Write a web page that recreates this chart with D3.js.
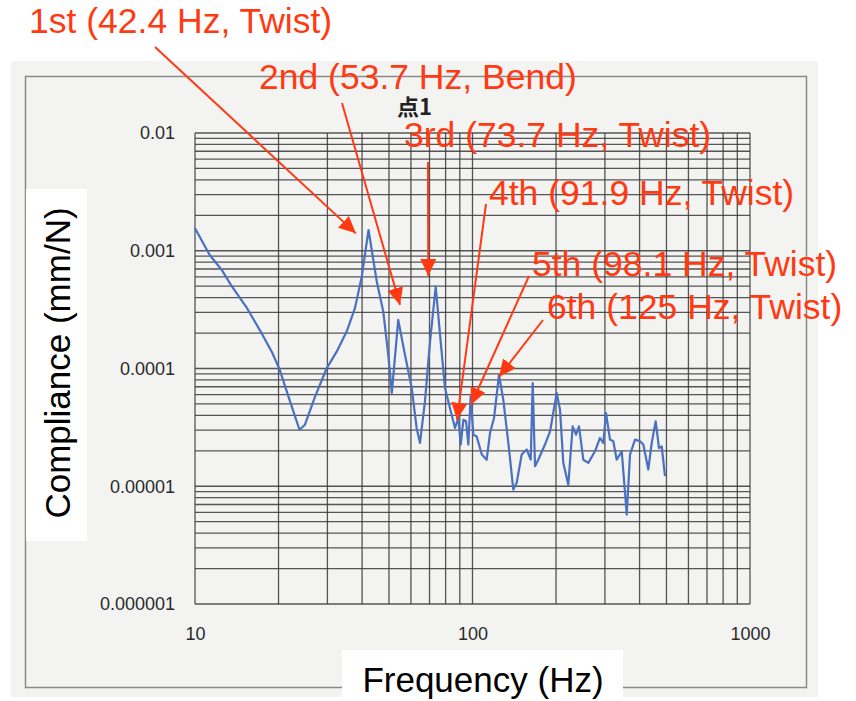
<!DOCTYPE html>
<html>
<head>
<meta charset="utf-8">
<script src="https://cdn.jsdelivr.net/npm/d3@7"></script>
<style>
  body { margin: 0; background: #fff; }
  svg { display: block; }
</style>
</head>
<body>
<div class="chart"></div>
<script>
// compliance vs frequency, point 1
const freq = [10.0, 11.3, 12.5, 13.6, 15.4, 17.1, 18.9, 20.2, 22.0, 23.8, 24.9, 27.1, 29.8, 32.4, 35.2, 37.7, 39.9, 42.2,
    45.2, 47.7, 49.7, 51.2, 54.0, 57.1, 60.4, 62.9, 64.7, 67.4, 70.3, 73.7, 76.4, 79.6, 84.1, 86.5, 88.9, 90.7, 92.7,
    94.8, 96.6, 98.5, 100.7, 103.5, 108.0, 112.5, 115.7, 119.6, 124.6, 129.1, 134.6, 140.3, 144.3, 150.4, 156.8,
    162.1, 164.8, 168.0, 172.6, 182.5, 190.3, 201.1, 206.7, 212.4, 221.4, 229.6, 236.1, 242.0, 250.8, 261.4, 276.3,
    288.0, 296.0, 302.7, 313.0, 321.7, 330.9, 345.0, 359.6, 369.5, 385.2, 401.5, 412.6, 430.1, 442.4, 457.3, 470.0,
    480.7, 494.0];
const compliance = [1.55e-3, 9.2e-4, 6.85e-4, 4.95e-4, 3.25e-4, 2.13e-4, 1.39e-4, 9.75e-5, 5.25e-5, 3.02e-5, 3.33e-5,
    5.8e-5, 1.0e-4, 1.39e-4, 2.06e-4, 3.25e-4, 6.03e-4, 1.50e-3,
    5.46e-4, 3.04e-4, 1.31e-4, 6.2e-5, 2.59e-4, 1.31e-4, 6.82e-5, 3.13e-5, 2.33e-5, 5.25e-5, 1.69e-4, 4.95e-4,
    1.93e-4, 6.82e-5, 4.05e-5, 3.13e-5, 3.8e-5, 2.26e-5, 3.67e-5,
    3.56e-5, 2.26e-5, 5.8e-5, 2.74e-5, 2.65e-5, 1.86e-5, 1.68e-5, 2.85e-5, 3.82e-5, 8.85e-5, 5.43e-5, 2.35e-5,
    9.37e-6, 1.07e-5, 1.86e-5, 2.05e-5,
    1.68e-5, 7.52e-5, 1.48e-5, 1.68e-5, 2.26e-5, 2.92e-5, 6.2e-5, 4.47e-5, 1.58e-5, 1.03e-5, 3.22e-5, 2.74e-5,
    3.22e-5, 1.68e-5, 1.58e-5, 1.98e-5,
    2.57e-5, 2.33e-5, 4.19e-5, 2.49e-5, 2.41e-5, 1.68e-5, 1.98e-5, 5.75e-6, 1.86e-5, 2.49e-5, 2.41e-5, 2.26e-5,
    1.39e-5, 2.33e-5, 3.56e-5, 2.11e-5,
    2.18e-5, 1.22e-5];

const xTicks = [10, 100, 1000];
const xTickLabels = ["10", "100", "1000"];
const yTicks = [0.01, 0.001, 0.0001, 0.00001, 0.000001];
const yTickLabels = ["0.01", "0.001", "0.0001", "0.00001", "0.000001"];

// mode annotations: text and the point each arrow points at
const modeLabels = ["1st (42.4 Hz, Twist)", "2nd (53.7 Hz, Bend)", "3rd (73.7 Hz, Twist)",
    "4th (91.9 Hz, Twist)", "5th (98.1 Hz, Twist)", "6th (125 Hz, Twist)"];
const modeTipFreq = [38.0, 54.8, 69.3, 87.9, 98.8, 124.6];
const modeTipComp = [1.405e-3, 3.47e-4, 6.1e-4, 3.67e-5, 4.92e-5, 8.5e-5];

// where the labels and arrow tails sit on the page (pixels)
const labelXY = [[29, 33], [259, 89], [404, 147], [489, 205], [532, 276], [547, 319]];
const arrowTail = [[155, 47], [342, 103], [428, 162], [486, 204], [529, 276], [543, 320]];

const W = 856, H = 701;
const plot = {left: 195, right: 750, top: 133, bottom: 604};
const red = "#ff3a12";

const svg = d3.select(".chart").append("svg")
    .attr("width", W)
    .attr("height", H);

// scanned paper + frame
svg.append("rect")
    .attr("x", 11).attr("y", 61)
    .attr("width", 807).attr("height", 636)
    .attr("fill", "#f3f3f2");
svg.append("rect")
    .attr("x", 25.5).attr("y", 76.5)
    .attr("width", 781).attr("height", 611)
    .attr("fill", "none")
    .attr("stroke", "#8a8a8a")
    .attr("stroke-width", 1.5);

const x = d3.scaleLog()
    .domain([10, 1000])
    .range([plot.left, plot.right]);

const y = d3.scaleLog()
    .domain([0.000001, 0.01])
    .range([plot.bottom, plot.top]);

// log grid
const xGrid = [];
[10, 100].forEach(d => { for (let k = 1; k < 10; k++) xGrid.push(d * k); });
xGrid.push(1000);
const yGrid = [];
[1e-6, 1e-5, 1e-4, 1e-3].forEach(d => { for (let k = 1; k < 10; k++) yGrid.push(d * k); });
yGrid.push(0.01);

const grid = svg.append("g").attr("class", "grid")
    .attr("stroke", "#383838")
    .attr("stroke-width", 1.3)
    .attr("stroke-opacity", 0.85);

grid.selectAll(".vline")
    .data(xGrid)
    .enter()
    .append("line")
    .attr("class", "vline")
    .attr("x1", d => x(d)).attr("x2", d => x(d))
    .attr("y1", plot.top).attr("y2", plot.bottom);

grid.selectAll(".hline")
    .data(yGrid)
    .enter()
    .append("line")
    .attr("class", "hline")
    .attr("y1", d => y(d)).attr("y2", d => y(d))
    .attr("x1", plot.left).attr("x2", plot.right);

// axes (only the labels are visible, like the print)
const xAxis = d3.axisBottom(x)
    .tickValues(xTicks)
    .tickFormat((d, i) => xTickLabels[i])
    .tickSize(0)
    .tickPadding(0);

const yAxis = d3.axisLeft(y)
    .tickValues(yTicks)
    .tickFormat((d, i) => yTickLabels[i])
    .tickSize(0)
    .tickPadding(20);

const gx = svg.append("g")
    .attr("class", "axis x-axis")
    .attr("transform", "translate(0," + (plot.bottom + 23) + ")")
    .call(xAxis);

const gy = svg.append("g")
    .attr("class", "axis y-axis")
    .attr("transform", "translate(" + plot.left + ",0)")
    .call(yAxis);

[gx, gy].forEach(g => {
    g.select(".domain").remove();
    g.selectAll("text")
        .attr("font-family", "Liberation Sans, Arial, sans-serif")
        .attr("font-size", 18)
        .attr("fill", "#2a2a2a");
});

// the curve
const line = d3.line()
    .x((d, i) => x(freq[i]))
    .y(d => y(d));

svg.append("path")
    .datum(compliance)
    .attr("fill", "none")
    .attr("stroke", "#4a70c0")
    .attr("stroke-width", 2.2)
    .attr("stroke-linejoin", "round")
    .attr("d", line);

// axis titles on white patches
svg.append("rect")
    .attr("x", 26).attr("y", 189)
    .attr("width", 61).attr("height", 352)
    .attr("fill", "#fff");
svg.append("text")
    .attr("transform", "translate(70,363) rotate(-90)")
    .attr("text-anchor", "middle")
    .attr("font-family", "Liberation Sans, Arial, sans-serif")
    .attr("font-size", 35)
    .attr("fill", "#000")
    .text("Compliance (mm/N)");

svg.append("rect")
    .attr("x", 342).attr("y", 650)
    .attr("width", 281).attr("height", 51)
    .attr("fill", "#fff");
svg.append("text")
    .attr("x", 483).attr("y", 692)
    .attr("text-anchor", "middle")
    .attr("font-family", "Liberation Sans, Arial, sans-serif")
    .attr("font-size", 35)
    .attr("fill", "#000")
    .text("Frequency (Hz)");

// point name
svg.append("text")
    .attr("x", 397).attr("y", 115)
    .attr("font-family", "Noto Sans CJK JP, sans-serif")
    .attr("font-weight", "bold")
    .attr("font-size", 22)
    .attr("fill", "#222")
    .text("点1");

// annotations
svg.append("defs").append("marker")
    .attr("id", "head")
    .attr("markerUnits", "userSpaceOnUse")
    .attr("markerWidth", 18).attr("markerHeight", 16)
    .attr("refX", 17).attr("refY", 8)
    .attr("orient", "auto")
    .append("path")
    .attr("d", "M0,0 L17,8 L0,16 Z")
    .attr("fill", red);

svg.selectAll(".arrow")
    .data(modeLabels)
    .enter()
    .append("line")
    .attr("class", "arrow")
    .attr("x1", (d, i) => arrowTail[i][0])
    .attr("y1", (d, i) => arrowTail[i][1])
    .attr("x2", (d, i) => x(modeTipFreq[i]))
    .attr("y2", (d, i) => y(modeTipComp[i]))
    .attr("stroke", red)
    .attr("stroke-width", 2)
    .attr("marker-end", "url(#head)");

svg.selectAll(".mode-label")
    .data(modeLabels)
    .enter()
    .append("text")
    .attr("class", "mode-label")
    .attr("x", (d, i) => labelXY[i][0])
    .attr("y", (d, i) => labelXY[i][1])
    .attr("font-family", "Liberation Sans, Arial, sans-serif")
    .attr("font-size", 35.5)
    .attr("fill", red)
    .text(d => d);
</script>
</body>
</html>
